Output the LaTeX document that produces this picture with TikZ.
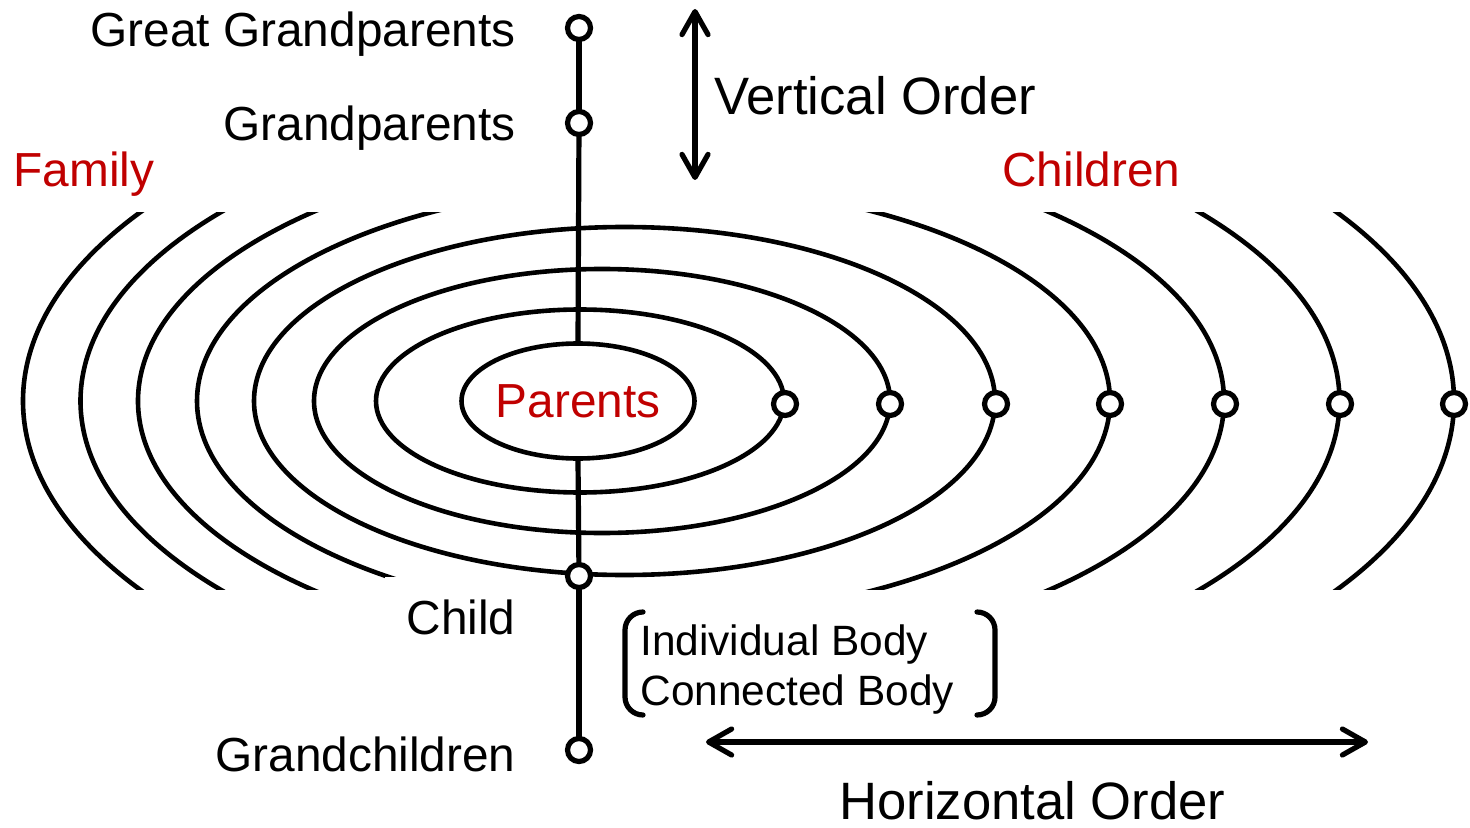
\documentclass[tikz,border=0pt]{standalone}
\usepackage{fontspec}
\setmainfont{Liberation Sans}
\usetikzlibrary{arrows.meta,shapes.geometric}
\definecolor{famred}{RGB}{192,0,0}
\begin{document}
\begin{tikzpicture}[x=0.5pt,y=-0.5pt,
  ring/.style={line width=2.3pt},
  vline/.style={line width=2.6pt},
  marker/.style={circle,draw,fill=white,line width=2.6pt,minimum size=11.5pt,inner sep=0pt,outer sep=0pt},
  lbl/.style={font=\fontsize{23.9pt}{28pt}\selectfont,inner sep=0pt},
  biglbl/.style={font=\fontsize{26.3pt}{30pt}\selectfont,inner sep=0pt},
  smalllbl/.style={font=\fontsize{21.2pt}{25pt}\selectfont,inner sep=0pt},
  redlbl/.style={lbl,text=famred},
  barb/.style={line width=2.6pt,{Straight Barb[length=11.5pt,width=13pt,line cap=round,line join=round]}-{Straight Barb[length=11.5pt,width=13pt,line cap=round,line join=round]}},
  bracketline/.style={line width=2.6pt,rounded corners=9pt,line cap=round}
]
\useasboundingbox (0,0) rectangle (1470,828);

% rings (unclipped)
\draw[ring] (580,401) ellipse [x radius=204, y radius=91.5];
\draw[ring] (602,401) ellipse [x radius=288, y radius=132];
\draw[ring] (624.5,401) ellipse [x radius=370.5, y radius=174];
% rings (clipped)
\begin{scope}
  \clip (0,213) rectangle (1470,589);
  \draw[ring] (653.5,401) ellipse [x radius=456.5, y radius=216];
  \draw[ring] (681,401) ellipse [x radius=543, y radius=257];
  \draw[ring] (710,401) ellipse [x radius=629.5, y radius=300];
  \draw[ring] (738.5,401) ellipse [x radius=715.5, y radius=344];
\end{scope}
% mask behind the Child label
\fill[white] (385,577) rectangle (545,592);

% Parents ellipse
\node[ellipse,draw,ring,minimum width=113pt,minimum height=57.5pt,inner sep=0pt,
      text=famred,font=\fontsize{23.9pt}{28pt}\selectfont] (parents) at (578,401) {Parents};

% vertical markers
\node[marker] (gg) at (579,28) {};
\node[marker] (gp) at (579,123) {};
\node[marker] (child) at (579,576) {};
\node[marker] (gc) at (579,750) {};
\draw[vline] (gg) -- (gp);
\draw[vline] (gp) -- (parents.north);
\draw[vline] (parents.south) -- (child);
\draw[vline] (child) -- (gc);

% right markers
\node[marker] (m2) at (785,404) {};
\node[marker] (m3) at (890,404) {};
\node[marker] (m4) at (996,404) {};
\node[marker] (m5) at (1110,404) {};
\node[marker] (m6) at (1225,404) {};
\node[marker] (m7) at (1340,404) {};
\node[marker] (m8) at (1454,404) {};

% labels
\node[lbl,anchor=base east] (lgg) at (516,47) {Great Grandparents};
\node[lbl,anchor=base east] (lgp) at (516,141) {Grandparents};
\node[lbl,anchor=base east] (lch) at (516,634) {Child};
\node[lbl,anchor=base east] (lgc) at (516,771) {Grandchildren};
\node[redlbl,anchor=base west] (lfam) at (13,187) {Family};
\node[redlbl,anchor=base west] (lchildren) at (1002,187) {Children};

% vertical order
\coordinate (vtop) at (695,9);
\coordinate (vbot) at (695,180);
\draw[barb] (vtop) -- (vbot);
\node[biglbl,anchor=base west] (lvo) at (714,115) {Vertical Order};

% horizontal order
\coordinate (hl) at (706,742);
\coordinate (hr) at (1368,742);
\draw[barb] (hl) -- (hr);
\node[biglbl,anchor=base west] (lho) at (839,819) {Horizontal Order};

% bracket text
\node[smalllbl,anchor=base west] (ib) at (640,655) {Individual Body};
\node[smalllbl,anchor=base west] (cb) at (640,705) {Connected Body};
\draw[bracketline] (643,612) -- (625,612) -- (625,715) -- (643,715);
\draw[bracketline] (977,612) -- (995,612) -- (995,715) -- (977,715);
\end{tikzpicture}
\end{document}
